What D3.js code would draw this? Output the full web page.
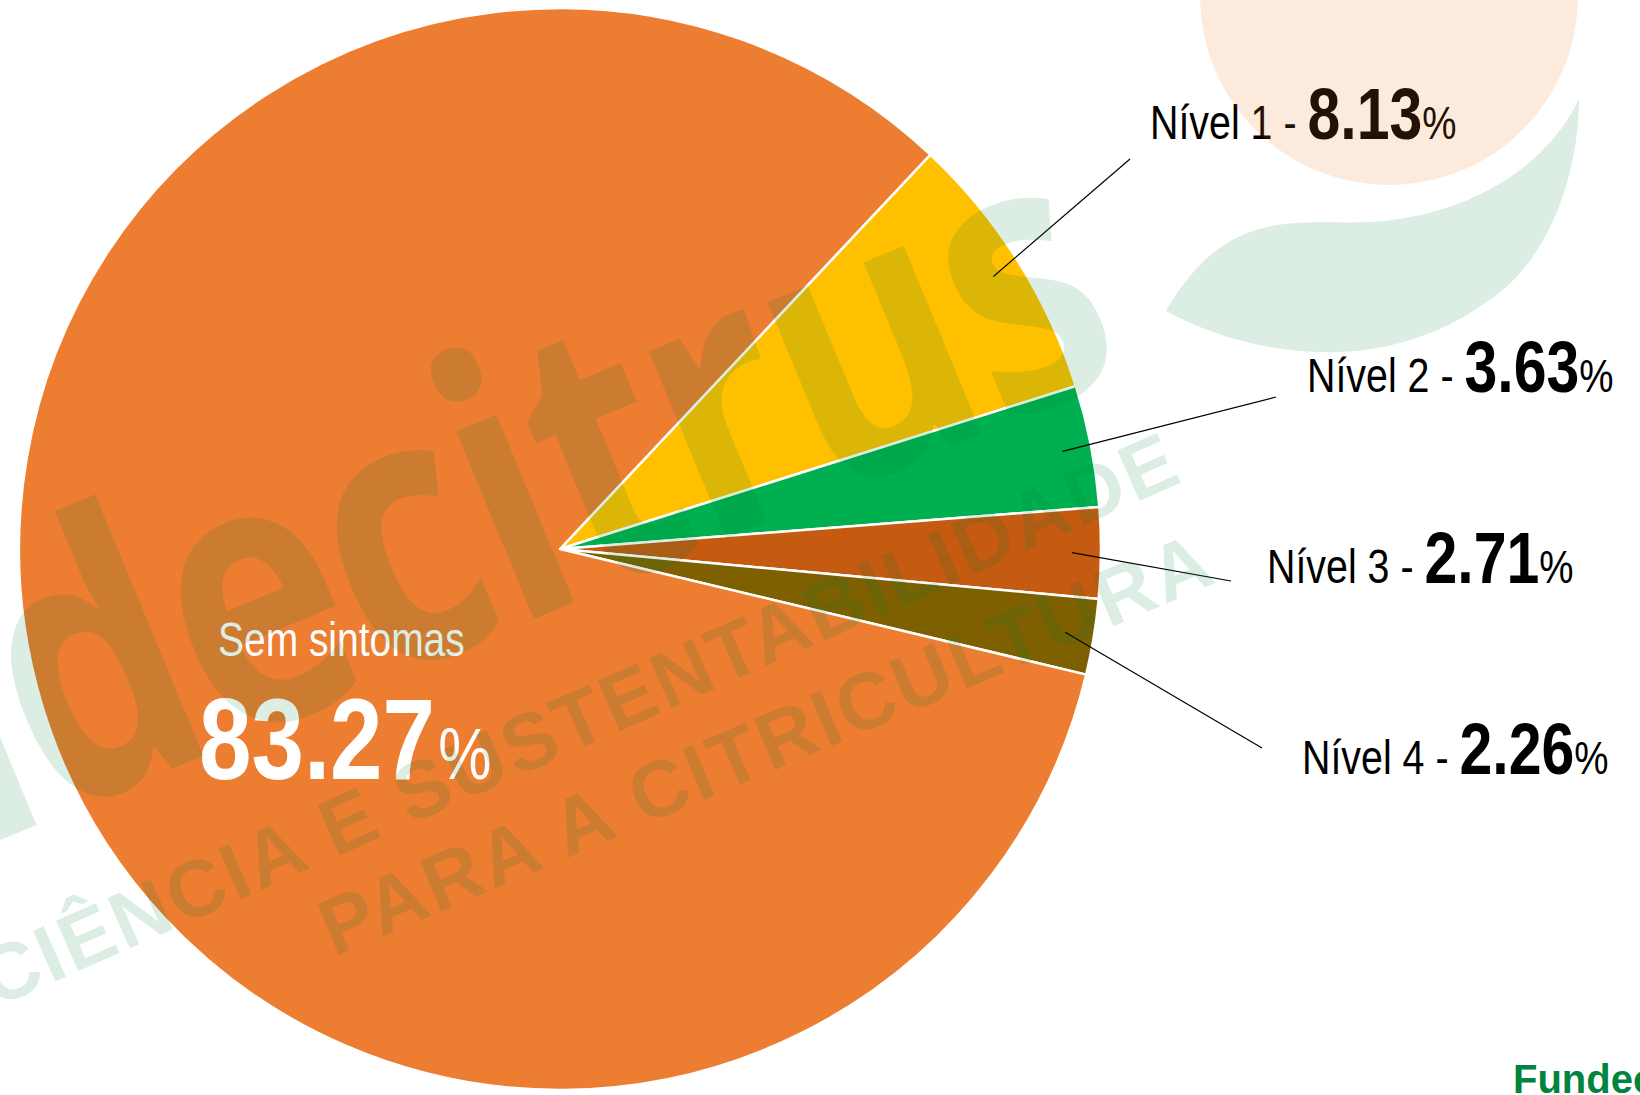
<!DOCTYPE html>
<html>
<head>
<meta charset="utf-8">
<script src="https://cdn.jsdelivr.net/npm/d3@7"></script>
<style>
  html, body { margin: 0; padding: 0; background: #fff; overflow: hidden; }
  svg { display: block; }
</style>
</head>
<body>
<div class="chart"></div>
<script>
// share of plants per symptom level (%)
var categories = ['Nível 1', 'Nível 2', 'Nível 3', 'Nível 4', 'Sem sintomas'];
var values = [8.13, 3.63, 2.71, 2.26, 83.27];
var valueLabels = ['8.13', '3.63', '2.71', '2.26', '83.27'];
var colors = ['#FFC000', '#00B050', '#C55A11', '#7F6000', '#ED7D31'];

// label anchors for the four small slices (layout only)
var labelPos = [[1150, 139], [1307, 392], [1267, 583], [1302, 774]];
var leaderEnd = [[1130, 159], [1276, 397], [1231, 581], [1262, 748]];

window.addEventListener('DOMContentLoaded', function() {
  var width = 1640, height = 1095;
  var cx = 560, cy = 549, radius = 541;
  var narrow = 0.82; // squeeze Liberation Sans to look like Arial Narrow
  var font = '"Liberation Sans", Arial, sans-serif';

  var svg = d3.select('.chart').append('svg')
    .attr('width', width)
    .attr('height', height);

  var data = categories.map(function(c, i) {
    return { name: c, value: values[i], label: valueLabels[i], color: colors[i] };
  });

  // first slice (Nível 1) starts a bit past 1 o'clock, clockwise
  var start = 43.2 * Math.PI / 180;
  var pie = d3.pie().sort(null).value(function(d) { return d.value; })
    .startAngle(start).endAngle(start + 2 * Math.PI);
  var arc = d3.arc().innerRadius(0).outerRadius(radius);
  var arcs = pie(data);

  var g = svg.append('g').attr('transform', 'translate(' + cx + ',' + cy + ')');

  g.selectAll('.slice')
    .data(arcs)
    .enter().append('path')
    .attr('class', 'slice')
    .attr('d', arc)
    .attr('fill', function(d) { return d.data.color; })
    .attr('stroke', '#fff')
    .attr('stroke-width', 2.5)
    .attr('stroke-linejoin', 'round');

  // leader lines + outside labels
  var small = arcs.slice(0, 4);
  g.selectAll('.leader')
    .data(small)
    .enter().append('line')
    .attr('class', 'leader')
    .attr('x1', function(d) { return 512 * Math.sin((d.startAngle + d.endAngle) / 2); })
    .attr('y1', function(d) { return -512 * Math.cos((d.startAngle + d.endAngle) / 2); })
    .attr('x2', function(d, i) { return leaderEnd[i][0] - cx; })
    .attr('y2', function(d, i) { return leaderEnd[i][1] - cy; })
    .attr('stroke', '#000')
    .attr('stroke-width', 1.2);

  var labels = svg.selectAll('.lbl')
    .data(small)
    .enter().append('text')
    .attr('class', 'lbl')
    .attr('transform', function(d, i) {
      return 'translate(' + labelPos[i][0] + ',' + labelPos[i][1] + ') scale(' + narrow + ',1)';
    })
    .attr('font-family', font)
    .attr('fill', '#000');
  labels.append('tspan').attr('font-size', 48).text(function(d) { return d.data.name + ' - '; });
  labels.append('tspan').attr('font-size', 72).attr('font-weight', 'bold').text(function(d) { return d.data.label; });
  labels.append('tspan').attr('font-size', 47).text('%');

  // label inside the big slice
  var big = arcs[4];
  svg.append('text')
    .attr('transform', 'translate(218,656) scale(' + narrow + ',1)')
    .attr('font-family', font)
    .attr('font-size', 47.5)
    .attr('fill', '#fff')
    .text(big.data.name);
  var bigVal = svg.append('text')
    .attr('transform', 'translate(199,779) scale(' + narrow + ',1)')
    .attr('font-family', font)
    .attr('fill', '#fff');
  bigVal.append('tspan').attr('font-size', 115).attr('font-weight', 'bold').text(big.data.label);
  bigVal.append('tspan').attr('font-size', 73).attr('dx', 4).text('%');

  // watermark, drawn over everything with low opacity
  svg.append('circle')
    .attr('cx', 1389).attr('cy', -4).attr('r', 189)
    .attr('fill', '#eb7214')
    .attr('opacity', 0.15);

  var wm = svg.append('g').attr('fill', '#057e37').attr('opacity', 0.14);
  wm.append('path')
    .attr('d', 'M1166,311 C1190,270 1215,245 1250,232 C1290,218 1330,224 1370,222 ' +
               'C1450,218 1540,180 1579,99 C1578,190 1540,270 1485,303 ' +
               'C1440,335 1390,350 1340,352 C1280,354 1220,340 1166,311 Z');
  wm.append('text')
    .attr('transform', 'translate(1130,372) rotate(-22.5) scale(0.96,1.22)')
    .attr('text-anchor', 'end')
    .attr('font-family', '"Open Sans", sans-serif')
    .attr('font-weight', 'bold')
    .attr('font-size', 305)
    .attr('letter-spacing', -4)
    .text('Fundecitrus');
  wm.append('text')
    .attr('transform', 'translate(-5,1008) rotate(-23.9)')
    .attr('font-family', font)
    .attr('font-weight', 'bold')
    .attr('font-size', 80)
    .attr('textLength', 1300)
    .attr('lengthAdjust', 'spacing')
    .text('CIÊNCIA E SUSTENTABILIDADE');
  wm.append('text')
    .attr('transform', 'translate(334,957) rotate(-23)')
    .attr('font-family', font)
    .attr('font-weight', 'bold')
    .attr('font-size', 80)
    .attr('textLength', 960)
    .attr('lengthAdjust', 'spacing')
    .text('PARA A CITRICULTURA');

  // logo corner
  svg.append('text')
    .attr('x', 1513).attr('y', 1093)
    .attr('font-family', font)
    .attr('font-weight', 'bold')
    .attr('font-size', 40)
    .attr('fill', '#00853E')
    .text('Fundecitrus');
});
</script>
</body>
</html>
